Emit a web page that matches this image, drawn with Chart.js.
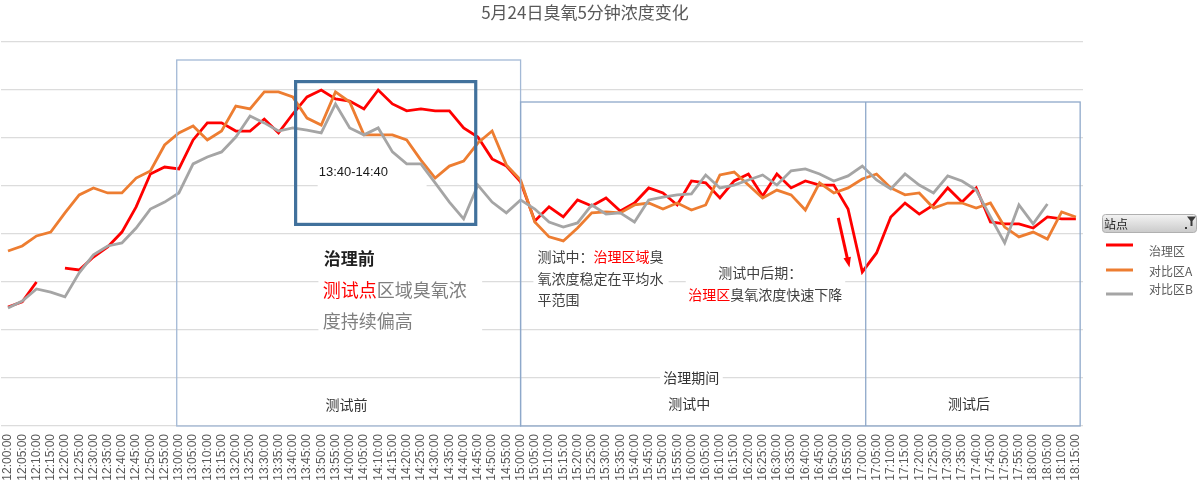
<!DOCTYPE html>
<html>
<head>
<meta charset="utf-8">
<script src="https://cdn.jsdelivr.net/npm/chart.js@4.4.1/dist/chart.umd.min.js"></script>
<style>
html, body { margin: 0; padding: 0; background: #fff; }
#wrap { position: relative; width: 1200px; height: 489px; }
</style>
</head>
<body>
<div id="wrap"><canvas id="ozoneChart" width="1200" height="489"></canvas></div>
<script>
const timeLabels = [
    '12:00:00','12:05:00','12:10:00','12:15:00','12:20:00','12:25:00','12:30:00','12:35:00','12:40:00','12:45:00','12:50:00','12:55:00',
    '13:00:00','13:05:00','13:10:00','13:15:00','13:20:00','13:25:00','13:30:00','13:35:00','13:40:00','13:45:00','13:50:00','13:55:00',
    '14:00:00','14:05:00','14:10:00','14:15:00','14:20:00','14:25:00','14:30:00','14:35:00','14:40:00','14:45:00','14:50:00','14:55:00',
    '15:00:00','15:05:00','15:10:00','15:15:00','15:20:00','15:25:00','15:30:00','15:35:00','15:40:00','15:45:00','15:50:00','15:55:00',
    '16:00:00','16:05:00','16:10:00','16:15:00','16:20:00','16:25:00','16:30:00','16:35:00','16:40:00','16:45:00','16:50:00','16:55:00',
    '17:00:00','17:05:00','17:10:00','17:15:00','17:20:00','17:25:00','17:30:00','17:35:00','17:40:00','17:45:00','17:50:00','17:55:00',
    '18:00:00','18:05:00','18:10:00','18:15:00'
];

// 治理区
const zoneTreated = [
    49.6, 51.7, 60.0, null, 65.8, 65.0, 70.4, 74.6, 80.8, 91.3,
    105.0, 107.9, 107.1, 119.2, 126.3, 126.3, 122.9, 122.9, 127.9, 122.1,
    130.0, 137.1, 140.0, 136.3, 135.4, 132.1, 140.0, 134.2, 131.3, 132.1,
    131.3, 131.3, 124.2, 120.4, 111.3, 108.3, 101.7, 85.4, 91.3, 87.1,
    94.2, 91.7, 95.0, 89.6, 92.9, 99.2, 97.1, 92.1, 102.1, 101.3,
    95.0, 102.1, 105.0, 95.8, 105.0, 99.2, 102.1, 100.4, 100.4, 90.4,
    64.2, 72.1, 87.1, 92.9, 88.3, 92.1, 99.2, 93.3, 99.2, 85.0,
    84.2, 84.2, 82.5, 87.1, 86.3, 86.3
];

// 对比区A
const zoneRefA = [
    72.9, 75.0, 79.2, 80.8, 88.8, 96.3, 99.2, 97.1, 97.1, 103.3,
    106.3, 117.1, 122.1, 125.0, 119.2, 122.9, 133.3, 132.1, 139.2, 139.2,
    137.1, 128.3, 125.4, 139.2, 135.0, 121.3, 121.3, 121.3, 119.2, 110.8,
    103.3, 108.3, 110.4, 117.9, 122.9, 108.8, 102.5, 85.0, 78.8, 77.1,
    82.5, 88.8, 89.2, 88.8, 92.1, 92.9, 90.4, 92.9, 90.0, 92.1,
    104.6, 105.8, 100.4, 95.0, 98.3, 96.3, 90.0, 101.3, 97.1, 99.2,
    102.9, 105.0, 99.2, 96.3, 97.1, 90.8, 92.9, 92.9, 90.8, 92.9,
    82.9, 78.8, 80.8, 77.9, 89.2, 87.1
];

// 对比区B
const zoneRefB = [
    49.2, 52.1, 57.1, 55.8, 53.8, 63.8, 71.3, 75.0, 76.3, 82.5,
    90.4, 93.3, 97.1, 109.2, 112.1, 114.2, 120.4, 129.2, 126.3, 122.9,
    124.2, 123.3, 122.1, 134.2, 124.2, 121.3, 124.2, 114.2, 109.2, 109.2,
    101.3, 93.3, 86.3, 100.4, 93.3, 88.8, 94.2, 90.4, 85.0, 82.9,
    84.6, 92.1, 88.3, 88.8, 85.0, 94.2, 95.4, 96.3, 96.7, 104.6,
    99.2, 100.4, 102.5, 104.6, 100.4, 106.3, 107.1, 105.0, 102.1, 104.2,
    108.3, 102.5, 98.8, 105.0, 100.4, 97.1, 104.2, 102.1, 98.3, 87.1,
    76.3, 92.1, 84.2, 92.5, null, null
];

const seriesNames = ['治理区', '对比区A', '对比区B'];
const seriesColors = ['#ff0000', '#ed7d31', '#a5a5a5'];

const CJK = '"Noto Sans CJK SC", "Noto Sans", sans-serif';

// positions in (category index, value) so they follow the scales
function px(chart, idx, val) {
    const xs = chart.scales.x;
    const p0 = xs.getPixelForValue(0);
    const step = xs.getPixelForValue(1) - p0;
    return [p0 + step * idx, chart.scales.y.getPixelForValue(val)];
}

function rectBetween(chart, a, b) {
    const [x1, y1] = px(chart, a[0], a[1]);
    const [x2, y2] = px(chart, b[0], b[1]);
    return [x1, y1, x2 - x1, y2 - y1];
}

// text runs: [text, colour]
function drawRuns(ctx, x, y, runs) {
    runs.forEach(r => {
        ctx.fillStyle = r[1];
        ctx.fillText(r[0], x, y);
        x += ctx.measureText(r[0]).width;
    });
}

const noteBacks = [
    [[21.75, 111.7], [29.4, 97.5]],
    [[21.8, 76.7], [33.3, 37.5]],
    [[36.9, 75.4], [46.4, 48.3]],
    [[47.6, 68.3], [58.8, 50.0]],
    [[45.8, 23.3], [50.2, 16.7]]
];

const notesPlugin = {
    id: 'ozoneNotes',
    beforeDatasetsDraw(chart) {
        const ctx = chart.ctx;
        ctx.save();
        ctx.fillStyle = '#ffffff';
        noteBacks.forEach(b => {
            const r = rectBetween(chart, b[0], b[1]);
            ctx.fillRect(r[0], r[1], r[2], r[3]);
        });
        ctx.restore();
    },
    afterDatasetsDraw(chart) {
        const ctx = chart.ctx;
        ctx.save();

        // phase boxes
        ctx.strokeStyle = '#a3b9d6';
        ctx.lineWidth = 1.3;
        let r = rectBetween(chart, [11.85, 152.5], [36.0, 0]);
        ctx.strokeRect(r[0], r[1], r[2], r[3]);
        ctx.strokeStyle = '#8ea8ca';
        r = rectBetween(chart, [36.0, 135], [75.3, 0]);
        ctx.strokeRect(r[0], r[1], r[2], r[3]);
        let a = px(chart, 60.24, 135), b = px(chart, 60.24, 0);
        ctx.beginPath();
        ctx.moveTo(a[0], a[1]);
        ctx.lineTo(b[0], b[1]);
        ctx.stroke();

        // 13:40-14:40 box
        ctx.strokeStyle = '#41719c';
        ctx.lineWidth = 3.2;
        r = rectBetween(chart, [20.2, 143.5], [32.85, 84.0]);
        ctx.strokeRect(r[0], r[1], r[2], r[3]);

        ctx.textBaseline = 'middle';
        ctx.textAlign = 'left';

        ctx.font = '13px "Liberation Sans", Arial, sans-serif';
        ctx.fillStyle = '#1a1a1a';
        let p = px(chart, 21.82, 105.8);
        ctx.fillText('13:40-14:40', p[0], p[1]);

        // 治理前
        ctx.font = 'bold 17px ' + CJK;
        p = px(chart, 22.17, 69.6);
        drawRuns(ctx, p[0], p[1], [['治理前', '#1f1f1f']]);
        ctx.font = '18px ' + CJK;
        p = px(chart, 22.1, 56.7);
        drawRuns(ctx, p[0], p[1], [['测试点', '#ff0000'], ['区域臭氧浓', '#7f7f7f']]);
        p = px(chart, 22.1, 43.75);
        drawRuns(ctx, p[0], p[1], [['度持续偏高', '#7f7f7f']]);

        // 测试中
        ctx.font = '14px ' + CJK;
        p = px(chart, 37.18, 70.4);
        drawRuns(ctx, p[0], p[1], [['测试中：', '#404040'], ['治理区域', '#ff0000'], ['臭', '#404040']]);
        p = px(chart, 37.18, 61.25);
        drawRuns(ctx, p[0], p[1], [['氧浓度稳定在平均水', '#404040']]);
        p = px(chart, 37.18, 52.5);
        drawRuns(ctx, p[0], p[1], [['平范围', '#404040']]);

        p = px(chart, 49.89, 63.75);
        drawRuns(ctx, p[0], p[1], [['测试中后期：', '#404040']]);
        p = px(chart, 47.78, 54.6);
        drawRuns(ctx, p[0], p[1], [['治理区', '#ff0000'], ['臭氧浓度快速下降', '#404040']]);

        // phase labels
        ctx.textAlign = 'center';
        ctx.fillStyle = '#333333';
        [['测试前', 23.78, 8.75], ['治理期间', 47.99, 20.0], ['测试中', 47.85, 9.17], ['测试后', 67.5, 9.17]]
            .forEach(t => {
                const q = px(chart, t[1], t[2]);
                ctx.fillText(t[0], q[0], q[1]);
            });

        // red arrow
        a = px(chart, 58.31, 86.7);
        b = px(chart, 59.0, 68.5);
        ctx.strokeStyle = '#ff0000';
        ctx.fillStyle = '#ff0000';
        ctx.lineWidth = 3;
        ctx.beginPath();
        ctx.moveTo(a[0], a[1]);
        ctx.lineTo(b[0], b[1]);
        ctx.stroke();
        const tip = px(chart, 59.1, 66.0);
        const ang = Math.atan2(tip[1] - a[1], tip[0] - a[0]);
        ctx.beginPath();
        ctx.moveTo(tip[0], tip[1]);
        ctx.lineTo(tip[0] - 11 * Math.cos(ang - 0.35), tip[1] - 11 * Math.sin(ang - 0.35));
        ctx.lineTo(tip[0] - 11 * Math.cos(ang + 0.35), tip[1] - 11 * Math.sin(ang + 0.35));
        ctx.closePath();
        ctx.fill();

        ctx.restore();
    },
    afterDraw(chart) {
        const ctx = chart.ctx;
        ctx.save();

        // title
        ctx.font = '17px ' + CJK;
        ctx.fillStyle = '#595959';
        ctx.textAlign = 'center';
        ctx.textBaseline = 'middle';
        ctx.fillText('5月24日臭氧5分钟浓度变化', 585, 13);

        // 站点 filter button
        const g = ctx.createLinearGradient(0, 214, 0, 233);
        g.addColorStop(0, '#f4f4f4');
        g.addColorStop(1, '#c9c9c9');
        ctx.fillStyle = g;
        ctx.strokeStyle = '#b0b0b0';
        ctx.lineWidth = 1;
        ctx.beginPath();
        ctx.roundRect(1102.5, 214.5, 94, 18, 3);
        ctx.fill();
        ctx.stroke();
        ctx.font = '12px ' + CJK;
        ctx.fillStyle = '#262626';
        ctx.textAlign = 'left';
        ctx.fillText('站点', 1104, 224);
        ctx.fillStyle = '#3a3a3a';
        ctx.beginPath();
        ctx.moveTo(1187, 216.5);
        ctx.lineTo(1196, 216.5);
        ctx.lineTo(1192.5, 221);
        ctx.lineTo(1192.5, 226);
        ctx.lineTo(1190.5, 226);
        ctx.lineTo(1190.5, 221);
        ctx.closePath();
        ctx.fill();
        ctx.fillRect(1185, 227, 2, 2);

        // legend entries
        const lineY = [245, 270, 294];
        const textY = [251, 271, 289];
        ctx.font = '12px ' + CJK;
        seriesNames.forEach((name, i) => {
            ctx.strokeStyle = seriesColors[i];
            ctx.lineWidth = 3;
            ctx.beginPath();
            ctx.moveTo(1106, lineY[i]);
            ctx.lineTo(1133, lineY[i]);
            ctx.stroke();
            ctx.fillStyle = '#595959';
            ctx.fillText(name, 1149, textY[i]);
        });

        ctx.restore();
    }
};

const ctx = document.getElementById('ozoneChart').getContext('2d');

new Chart(ctx, {
    type: 'line',
    data: {
        labels: timeLabels,
        datasets: [zoneTreated, zoneRefA, zoneRefB].map((vals, i) => ({
            label: seriesNames[i],
            data: vals,
            borderColor: seriesColors[i],
            backgroundColor: seriesColors[i],
            borderWidth: 2.8,
            pointRadius: 0,
            pointHoverRadius: 0,
            tension: 0,
            spanGaps: false,
            fill: false,
            order: 3 - i
        }))
    },
    options: {
        responsive: false,
        animation: false,
        devicePixelRatio: 1,
        layout: { padding: { top: 42, right: 117, left: 0, bottom: 0 } },
        plugins: {
            legend: { display: false },
            title: { display: false },
            tooltip: { enabled: false }
        },
        scales: {
            x: {
                offset: true,
                grid: { display: false, drawTicks: false },
                border: { display: false },
                ticks: {
                    autoSkip: false,
                    minRotation: 90,
                    maxRotation: 90,
                    padding: 8,
                    color: '#595959',
                    font: { family: '"Liberation Sans", Arial, sans-serif', size: 12 }
                },
                afterFit: scale => { scale.height = 63; }
            },
            y: {
                min: 0,
                max: 160,
                ticks: { display: false, stepSize: 20 },
                grid: { color: '#dcdcdc', lineWidth: 1.3, drawTicks: false },
                border: { display: false },
                afterFit: scale => { scale.width = 0; }
            }
        }
    },
    plugins: [notesPlugin]
});
</script>
</body>
</html>
